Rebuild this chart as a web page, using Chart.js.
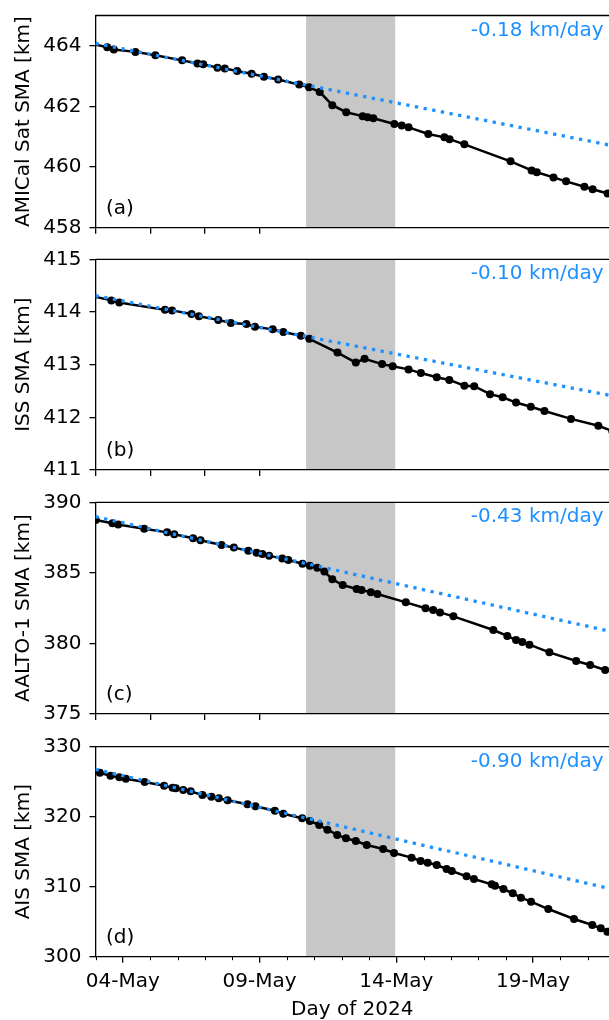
<!DOCTYPE html>
<html>
<head>
<meta charset="utf-8">
<script src="https://cdn.jsdelivr.net/npm/chart.js@4.4.1/dist/chart.umd.min.js"></script>
<style>
  html, body { margin: 0; padding: 0; background: #fff; }
  #fig { position: relative; width: 609px; height: 1020px; overflow: hidden; }
  .panel { position: absolute; left: 0; width: 609px; }
</style>
</head>
<body>
<div id="fig">
  <div class="panel" style="top:0px"><canvas id="ca" width="609" height="244"></canvas></div>
  <div class="panel" style="top:244px"><canvas id="cb" width="609" height="243"></canvas></div>
  <div class="panel" style="top:487px"><canvas id="cc" width="609" height="244"></canvas></div>
  <div class="panel" style="top:731px"><canvas id="cd" width="609" height="289"></canvas></div>
</div>
<script>
// x = days since 03-May-2024 00:00 UTC
const daysA = [-0.1, 0.43, 0.67, 1.46, 2.19, 3.17, 3.73, 3.94, 4.46, 4.73, 5.18, 5.71, 6.16, 6.68, 7.45, 7.81,
  8.20, 8.66, 9.17, 9.77, 9.95, 10.16, 10.93, 11.20, 11.45, 12.17, 12.76, 12.95, 13.49, 15.18, 15.95, 16.14,
  16.75, 17.21, 17.88, 18.18, 18.73];
const smaA = [464.06, 463.95, 463.88, 463.80, 463.69, 463.52, 463.42, 463.39, 463.28, 463.25, 463.17, 463.08,
  462.98, 462.89, 462.72, 462.63, 462.48, 462.04, 461.81, 461.68, 461.64, 461.61, 461.42, 461.37, 461.31,
  461.09, 460.98, 460.92, 460.75, 460.19, 459.89, 459.83, 459.66, 459.53, 459.35, 459.27, 459.13];

const daysB = [-0.1, 0.58, 0.87, 2.54, 2.80, 3.51, 3.78, 4.49, 4.95, 5.52, 5.83, 6.48, 6.87, 7.51, 7.82, 8.85,
  9.52, 9.84, 10.48, 10.87, 11.45, 11.90, 12.48, 12.94, 13.49, 13.85, 14.43, 14.89, 15.38, 15.92, 16.42,
  17.39, 18.39, 18.90];
const smaB = [414.30, 414.22, 414.18, 414.04, 414.03, 413.96, 413.92, 413.85, 413.79, 413.77, 413.72, 413.67,
  413.62, 413.55, 413.49, 413.23, 413.04, 413.11, 413.01, 412.97, 412.91, 412.84, 412.76, 412.71, 412.60,
  412.59, 412.44, 412.38, 412.28, 412.20, 412.12, 411.97, 411.84, 411.74];

const daysC = [0.01, 0.62, 0.83, 1.78, 2.62, 2.88, 3.57, 3.84, 4.61, 5.06, 5.59, 5.89, 6.10, 6.35, 6.83, 7.05,
  7.57, 7.84, 8.11, 8.37, 8.66, 9.04, 9.55, 9.73, 10.07, 10.31, 11.35, 12.07, 12.35, 12.60, 13.09, 14.55,
  15.06, 15.38, 15.61, 15.87, 16.60, 17.58, 18.09, 18.64];
const smaC = [388.75, 388.51, 388.42, 388.13, 387.87, 387.73, 387.45, 387.31, 386.97, 386.79, 386.57, 386.43,
  386.34, 386.22, 386.01, 385.91, 385.65, 385.51, 385.37, 385.09, 384.54, 384.14, 383.86, 383.79, 383.62,
  383.50, 382.91, 382.49, 382.37, 382.20, 381.92, 380.95, 380.53, 380.24, 380.10, 379.91, 379.37, 378.76,
  378.47, 378.12];

const daysD = [-0.1, 0.16, 0.55, 0.87, 1.11, 1.80, 2.51, 2.82, 2.94, 3.21, 3.48, 3.91, 4.24, 4.51, 4.83, 5.56,
  5.85, 6.56, 6.87, 7.56, 7.84, 8.18, 8.48, 8.84, 9.16, 9.52, 9.92, 10.52, 10.92, 11.56, 11.89, 12.15, 12.48,
  12.84, 13.03, 13.57, 13.84, 14.49, 14.61, 14.92, 15.26, 15.56, 15.93, 16.56, 17.50, 18.17, 18.48, 18.72];
const smaD = [326.57, 326.29, 325.86, 325.62, 325.43, 324.96, 324.43, 324.15, 324.05, 323.81, 323.62, 323.10,
  322.86, 322.62, 322.34, 321.77, 321.48, 320.86, 320.43, 319.77, 319.39, 318.81, 318.15, 317.39, 316.91,
  316.53, 315.96, 315.39, 314.81, 314.15, 313.67, 313.43, 313.10, 312.53, 312.24, 311.48, 311.10, 310.34,
  310.15, 309.67, 309.05, 308.43, 307.86, 306.81, 305.39, 304.53, 304.05, 303.58];

// pre-storm linear fits, extrapolated (start / end of the x range)
const fitDays = [0, 18.78];
const fitA = [464.08, 460.73];
const fitB = [414.31, 412.42];
const fitC = [388.98, 380.88];
const fitD = [326.77, 309.77];
const rateLabels = ['-0.18 km/day', '-0.10 km/day', '-0.43 km/day', '-0.90 km/day'];

const panelLetters = ['(a)', '(b)', '(c)', '(d)'];
const yTitles = ['AMICal Sat SMA [km]', 'ISS SMA [km]', 'AALTO-1 SMA [km]', 'AIS SMA [km]'];
const yRanges = [[458, 465], [411, 415], [375, 390], [300, 330]];
const yTicksA = [458, 460, 462, 464];
const yTicksB = [411, 412, 413, 414, 415];
const yTicksC = [375, 380, 385, 390];
const yTicksD = [300, 310, 320, 330];

const xMin = 0, xMax = 18.78;
const topTickDays = [0, 2, 4, 6, 8, 10, 12, 14, 16, 18];
const xTickDays = [1, 6, 11, 16];
const xTickLabels = ['04-May', '09-May', '14-May', '19-May'];
const minorTickDays = [0, 2, 3, 4, 5, 7, 8, 9, 10, 12, 13, 14, 15, 17, 18];
const stormStart = 7.7, stormEnd = 10.96;

Chart.defaults.font.family = 'DejaVu Sans';
Chart.defaults.font.size = 20;
Chart.defaults.color = '#000';

function pts(xs, ys) {
  return xs.map((x, i) => ({x: x, y: ys[i]}));
}

function makePanel(id, idx, days, sma, fit, yTicks, padTop, xHeight, isBottom) {
  const shade = {
    id: 'shade',
    beforeDraw(chart) {
      const {ctx, chartArea, scales} = chart;
      const x1 = scales.x.getPixelForValue(stormStart);
      const x2 = scales.x.getPixelForValue(stormEnd);
      ctx.save();
      ctx.fillStyle = '#c7c7c7';
      ctx.fillRect(x1, chartArea.top, x2 - x1, chartArea.bottom - chartArea.top);
      ctx.restore();
    }
  };
  const deco = {
    id: 'deco',
    afterDraw(chart) {
      const {ctx, chartArea, scales} = chart;
      ctx.save();
      // top spine
      ctx.strokeStyle = '#000';
      ctx.lineWidth = 1.3;
      ctx.beginPath();
      ctx.moveTo(chartArea.left, chartArea.top);
      ctx.lineTo(chartArea.right, chartArea.top);
      ctx.stroke();
      // minor ticks on the shared date axis
      if (isBottom) {
        ctx.lineWidth = 1;
        minorTickDays.forEach(d => {
          const px = Math.round(scales.x.getPixelForValue(d)) + 0.5;
          ctx.beginPath();
          ctx.moveTo(px, chartArea.bottom);
          ctx.lineTo(px, chartArea.bottom + 3.5);
          ctx.stroke();
        });
      }
      ctx.font = '20px DejaVu Sans';
      ctx.textBaseline = 'alphabetic';
      ctx.fillStyle = '#1e90ff';
      ctx.textAlign = 'right';
      ctx.fillText(rateLabels[idx], 603.5, chartArea.top + 20);
      ctx.fillStyle = '#000';
      ctx.textAlign = 'left';
      ctx.fillText(panelLetters[idx], 106, chartArea.bottom - 13.7);
      ctx.restore();
    }
  };

  return new Chart(document.getElementById(id), {
    type: 'line',
    data: {
      datasets: [
        {
          data: pts(fitDays, fit),
          borderColor: '#1e90ff',
          borderWidth: 3.3,
          borderDash: [3.3, 5.5],
          pointRadius: 0,
          tension: 0
        },
        {
          data: pts(days, sma),
          borderColor: '#000',
          borderWidth: 2.5,
          pointRadius: 4,
          pointBackgroundColor: '#000',
          pointBorderWidth: 0,
          tension: 0
        }
      ]
    },
    options: {
      responsive: false,
      animation: false,
      devicePixelRatio: 1,
      layout: {autoPadding: false, padding: {top: padTop, right: 0, bottom: 0, left: 0}},
      plugins: {legend: {display: false}, tooltip: {enabled: false}},
      scales: {
        x: {
          type: 'linear',
          min: xMin,
          max: xMax,
          afterBuildTicks: s => {
            s.ticks = (isBottom ? xTickDays : topTickDays).map(v => ({value: v}));
          },
          afterFit: s => {
            s.height = xHeight;
            s.paddingLeft = 0; s.paddingRight = 0;
          },
          grid: {drawOnChartArea: false, color: '#000', lineWidth: 1.3, tickLength: 6},
          border: {color: '#000', width: 1.3},
          ticks: {
            display: isBottom,
            padding: 7.5,
            maxRotation: 0,
            callback: (v, i) => xTickLabels[i]
          },
          title: {display: isBottom, text: 'Day of 2024', padding: {top: 0, bottom: -1.5}}
        },
        y: {
          min: yRanges[idx][0],
          max: yRanges[idx][1],
          afterBuildTicks: s => { s.ticks = yTicks.map(v => ({value: v})); },
          afterFit: s => {
            s.width = 95.5;
            s.paddingTop = 0; s.paddingBottom = 0;
          },
          grid: {drawOnChartArea: false, color: '#000', lineWidth: 1.3, tickLength: 6},
          border: {color: '#000', width: 1.3},
          ticks: {padding: 8},
          title: {display: true, text: yTitles[idx], padding: {top: 12, bottom: 0}}
        }
      }
    },
    plugins: [shade, deco]
  });
}

makePanel('ca', 0, daysA, smaA, fitA, yTicksA, 15.5, 16.3, false);
makePanel('cb', 1, daysB, smaB, fitB, yTicksB, 15.3, 17, false);
makePanel('cc', 2, daysC, smaC, fitC, yTicksC, 15.3, 17, false);
makePanel('cd', 3, daysD, smaD, fitD, yTicksD, 15.7, 63.3, true);
</script>
</body>
</html>
